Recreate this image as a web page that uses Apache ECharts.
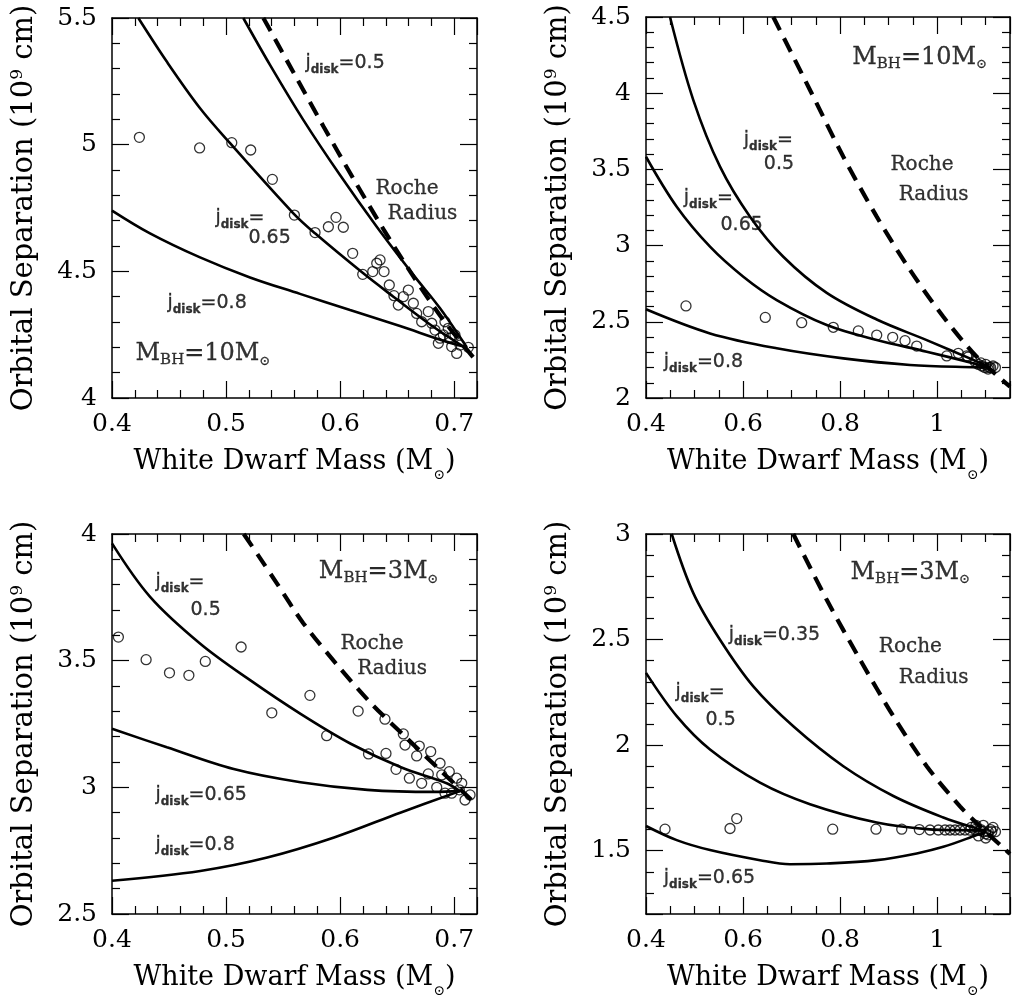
<!DOCTYPE html>
<html><head><meta charset="utf-8">
<script src="https://cdn.jsdelivr.net/npm/echarts@6/dist/echarts.min.js"></script>
<style>html,body{margin:0;padding:0;background:#fff}#c{width:1012px;height:1000px}</style>
</head><body><div id="c"></div>
<script>
// ===== Panel A: M_BH = 10 Msun, WD mass 0.4–0.72 =====
const aRoche = [[0.5327,5.5],[0.5590,5.286],[0.5853,5.073],[0.6116,4.866],[0.6379,4.667],[0.6642,4.480],[0.6905,4.308],[0.7183,4.152]];
const aJ050 = [[0.5151,5.5],[0.5385,5.315],[0.5677,5.098],[0.5999,4.880],[0.6321,4.676],[0.6642,4.486],[0.6876,4.354],[0.7110,4.200]];
const aJ065 = [[0.4231,5.5],[0.4480,5.328],[0.4772,5.144],[0.5035,5.006],[0.5590,4.729],[0.5780,4.650],[0.6203,4.492],[0.6467,4.400],[0.6817,4.281],[0.7081,4.203]];
const aJ080 = [[0.400,4.740],[0.4333,4.650],[0.4772,4.555],[0.5210,4.476],[0.5648,4.411],[0.6087,4.347],[0.6525,4.284],[0.6905,4.226],[0.7110,4.200]];
const aPoints = [[0.424,5.029],[0.4768,4.987],[0.505,5.008],[0.5216,4.979],[0.5406,4.863],[0.5599,4.722],[0.578,4.653],[0.5897,4.676],[0.5964,4.713],[0.6028,4.674],[0.611,4.571],[0.6198,4.488],[0.6286,4.499],[0.6321,4.532],[0.635,4.545],[0.6385,4.499],[0.6431,4.446],[0.6472,4.404],[0.651,4.367],[0.6554,4.4],[0.6598,4.426],[0.6642,4.374],[0.6671,4.334],[0.6715,4.301],[0.6773,4.341],[0.6803,4.295],[0.6832,4.268],[0.6876,4.236],[0.6919,4.301],[0.6948,4.275],[0.6978,4.203],[0.7022,4.176],[0.7051,4.209],[0.7124,4.2],[0.6861,4.216],[0.6905,4.249],[0.6963,4.236],[0.7007,4.249]];
const aLabels = [['jd','0.5',0.5692,5.3225],['r','Roche',0.6306,4.825],['r','Radius',0.6411,4.726],['jd','',0.4903,4.711],['n','0.65',0.5192,4.632],['jd','0.8',0.4482,4.375],['mbh','10',0.4202,4.174]];

// ===== Panel B: M_BH = 10 Msun, WD mass 0.4–1.15 =====
const bRoche = [[0.6623,4.5],[0.7379,4.021],[0.8066,3.583],[0.8754,3.190],[0.9440,2.840],[1.0126,2.533],[1.0814,2.271],[1.15,2.074]];
const bJ050 = [[0.4495,4.5],[0.4975,3.955],[0.5525,3.518],[0.6143,3.190],[0.6829,2.927],[0.7724,2.690],[0.8754,2.515],[0.9784,2.380],[1.0744,2.250],[1.100,2.215]];
const bJ065 = [[0.4,3.583],[0.4633,3.255],[0.5319,2.993],[0.6005,2.796],[0.6693,2.643],[0.7724,2.479],[0.8754,2.381],[0.9784,2.304],[1.0744,2.228],[1.100,2.205]];
const bJ080 = [[0.4,2.582],[0.5319,2.424],[0.6693,2.326],[0.8066,2.260],[0.9440,2.217],[1.0814,2.201],[1.100,2.200]];
const bPoints = [[0.4824,2.604],[0.6458,2.529],[0.7208,2.494],[0.7859,2.464],[0.8375,2.440],[0.8754,2.413],[0.9083,2.398],[0.9337,2.376],[0.9578,2.341],[1.0196,2.276],[1.0435,2.293],[1.0608,2.276],[1.0635,2.269],[1.078,2.24],[1.085,2.22],[1.092,2.21],[1.098,2.20],[1.105,2.19],[1.11,2.20],[1.115,2.21],[1.12,2.20],[1.09,2.23],[1.10,2.22],[1.107,2.2]];
const bLabels = [['mbh','10',0.8239,4.234],['jd','',0.6005,3.693],['n','0.5',0.6417,3.535],['jd','',0.4769,3.312],['n','0.65',0.5525,3.135],['r','Roche',0.9028,3.529],['r','Radius',0.9199,3.332],['jd','0.8',0.4357,2.236]];

// ===== Panel C: M_BH = 3 Msun, WD mass 0.4–0.72 =====
const cRoche = [[0.5155,4.0],[0.5298,3.905],[0.5444,3.806],[0.5677,3.648],[0.5999,3.470],[0.6277,3.329],[0.6554,3.207],[0.686,3.075],[0.7168,2.943]];
const cJ050 = [[0.400,3.963],[0.4334,3.752],[0.4774,3.567],[0.5214,3.422],[0.5653,3.290],[0.6093,3.172],[0.6533,3.079],[0.6934,3.016],[0.7050,2.985]];
const cJ065 = [[0.400,3.231],[0.4481,3.158],[0.5067,3.072],[0.5653,3.020],[0.6240,2.990],[0.6826,2.982],[0.7050,2.985]];
const cJ080 = [[0.400,2.631],[0.4774,2.670],[0.5361,2.723],[0.5947,2.802],[0.6533,2.901],[0.7050,2.985]];
const cPoints = [[0.4056,3.593],[0.4299,3.504],[0.4504,3.452],[0.4674,3.442],[0.4818,3.497],[0.5132,3.554],[0.5401,3.294],[0.5735,3.363],[0.5882,3.204],[0.6158,3.301],[0.6249,3.132],[0.6393,3.269],[0.6402,3.134],[0.6490,3.071],[0.6554,3.211],[0.6569,3.167],[0.6607,3.036],[0.6671,3.124],[0.6694,3.163],[0.6715,3.016],[0.6773,3.053],[0.6794,3.141],[0.6847,3.000],[0.6876,3.095],[0.6891,3.049],[0.6920,2.977],[0.6957,3.062],[0.6978,2.977],[0.7022,3.036],[0.7045,2.990],[0.7066,3.016],[0.7095,2.950],[0.7139,2.970]];
const cLabels = [['mbh','3',0.5809,3.851],['jd','',0.4377,3.812],['n','0.5',0.4684,3.700],['r','Roche',0.5999,3.566],['r','Radius',0.6145,3.467],['jd','0.65',0.4377,2.970],['jd','0.8',0.4377,2.772]];

// ===== Panel D: M_BH = 3 Msun, WD mass 0.4–1.15 =====
const dRoche = [[0.7035,3.0],[0.7724,2.688],[0.8410,2.405],[0.9096,2.137],[0.9784,1.900],[1.0470,1.71],[1.0862,1.62],[1.1397,1.506],[1.15,1.485]];
const dJ035 = [[0.4530,3.0],[0.4975,2.720],[0.5525,2.499],[0.6211,2.278],[0.7035,2.089],[0.8066,1.900],[0.9096,1.759],[1.0126,1.657],[1.0814,1.605],[1.10,1.595]];
const dJ050 = [[0.4,2.342],[0.4633,2.137],[0.5319,1.979],[0.6349,1.822],[0.7379,1.720],[0.8754,1.633],[0.9784,1.602],[1.0814,1.596],[1.10,1.595]];
const dJ065 = [[0.4,1.617],[0.4633,1.550],[0.5319,1.503],[0.6349,1.455],[0.6967,1.436],[0.7724,1.439],[0.8754,1.455],[0.9578,1.487],[1.0126,1.518],[1.0814,1.574],[1.10,1.59]];
const dPoints = [[0.4392,1.602],[0.5731,1.605],[0.5869,1.652],[0.7847,1.602],[0.8739,1.602],[0.9269,1.602],[0.9632,1.600],[0.9852,1.598],[1.0023,1.598],[1.0161,1.598],[1.0264,1.598],[1.0367,1.598],[1.0470,1.598],[1.0573,1.598],[1.0676,1.597],[1.0779,1.600],[1.0882,1.595],[1.0950,1.590],[1.1053,1.590],[1.1124,1.590],[1.07,1.61],[1.08,1.62],[1.09,1.60],[1.10,1.58],[1.11,1.60],[1.12,1.59],[1.10,1.56],[1.085,1.57],[1.095,1.62],[1.115,1.61],[1.105,1.575]];
const dLabels = [['mbh','3',0.8204,2.818],['jd','0.35',0.5696,2.522],['jd','',0.4598,2.253],['n','0.5',0.5216,2.119],['r','Roche',0.8787,2.466],['r','Radius',0.9199,2.318],['jd','0.65',0.4357,1.371]];

// ===== axis ranges / ticks =====
const xRangeSmall = [0.4, 0.72], xRangeLarge = [0.4, 1.15];
const yRangeA = [4, 5.5], yRangeB = [2, 4.5], yRangeC = [2.5, 4], yRangeD = [1.2, 3];

const SERIF = 'DejaVu Serif';
const SANS = 'DejaVu Sans';

const panels = [
  {grid:{left:112, top:18, width:365, height:380}, x:xRangeSmall, xi:0.1, xm:5, y:yRangeA, yi:0.5, ym:5,
   roche:aRoche, curves:[aJ050,aJ065,aJ080], pts:aPoints, labels:aLabels},
  {grid:{left:646, top:17, width:364, height:381}, x:xRangeLarge, xi:0.2, xm:4, y:yRangeB, yi:0.5, ym:5,
   roche:bRoche, curves:[bJ050,bJ065,bJ080], pts:bPoints, labels:bLabels},
  {grid:{left:112, top:534, width:365, height:380}, x:xRangeSmall, xi:0.1, xm:5, y:yRangeC, yi:0.5, ym:5,
   roche:cRoche, curves:[cJ050,cJ065,cJ080], pts:cPoints, labels:cLabels},
  {grid:{left:646, top:534, width:364, height:380}, x:xRangeLarge, xi:0.2, xm:4, y:yRangeD, yi:null, ym:5,
   roche:dRoche, curves:[dJ035,dJ050,dJ065], pts:dPoints, labels:dLabels}
];

const xName = '{a|White Dwarf Mass (M}{s|⊙}{a|)}';
const yName = '{a|Orbital Separation (10}{p|9}{a| cm)}';

const tickStyle = {color:'#000', width:1.2};
function baseAxis(min, max, interval, minorSplit) {
  const a = {
    type:'value', min:min, max:max,
    axisLine:{show:true, onZero:false, lineStyle:{color:'#000', width:1.5}},
    axisTick:{show:true, inside:true, length:17, lineStyle:tickStyle},
    minorTick:{show:true, splitNumber:minorSplit, length:8, lineStyle:tickStyle},
    splitLine:{show:false}, minorSplitLine:{show:false}
  };
  if (interval) a.interval = interval; else a.splitNumber = 4;
  return a;
}

const xAxes = [], yAxes = [], series = [];
function labelText(kind, txt) {
  if (kind === 'jd') return '{j|j}{d|disk}{j|=' + txt + '}';
  if (kind === 'n') return '{j|' + txt + '}';
  if (kind === 'r') return '{r|' + txt + '}';
  return '{m|M}{ms|BH}{m|=' + txt + 'M}{mo|⊙}';
}
const thick = {color:'#000', textBorderColor:'#000', textBorderWidth:0.3};
const annotRich = {
  j:Object.assign({fontFamily:SANS, fontSize:19, lineHeight:26, verticalAlign:'middle'}, thick),
  d:Object.assign({fontFamily:SANS, fontWeight:'bold', fontSize:12, lineHeight:12, verticalAlign:'bottom'}, thick),
  r:Object.assign({fontFamily:SERIF, fontSize:20, lineHeight:26, verticalAlign:'middle'}, thick),
  m:Object.assign({fontFamily:SERIF, fontSize:24, lineHeight:28, verticalAlign:'middle'}, thick),
  ms:Object.assign({fontFamily:SERIF, fontSize:15, lineHeight:15, verticalAlign:'bottom'}, thick),
  mo:Object.assign({fontFamily:SERIF, fontSize:13, lineHeight:13, verticalAlign:'bottom'}, thick)
};

panels.forEach(function(p, i){
  const xb = baseAxis(p.x[0], p.x[1], p.xi, p.xm);
  Object.assign(xb, {gridIndex:i, position:'bottom',
    axisLabel:{show:true, interval:0, margin:14, fontFamily:SERIF, fontSize:25, color:'#000', showMaxLabel:false},
    name:xName, nameLocation:'middle', nameGap:44,
    nameTextStyle:{rich:{
      a:{fontFamily:SERIF, fontSize:27, lineHeight:40, verticalAlign:'middle', color:'#000'},
      s:{fontFamily:SERIF, fontSize:14, lineHeight:14, verticalAlign:'bottom', color:'#000'}
    }}});
  const xt = baseAxis(p.x[0], p.x[1], p.xi, p.xm);
  Object.assign(xt, {gridIndex:i, position:'top', axisLabel:{show:false}});
  xAxes.push(xb, xt);
  const yl = baseAxis(p.y[0], p.y[1], p.yi, p.ym);
  Object.assign(yl, {gridIndex:i, position:'left',
    axisLabel:{show:true, interval:0, margin:15, fontFamily:SERIF, fontSize:25, color:'#000', showMinLabel: p.yi ? true : false},
    name:yName, nameLocation:'middle', nameGap:72, nameRotate:90,
    nameTextStyle:{rich:{
      a:{fontFamily:SERIF, fontSize:29, lineHeight:31, verticalAlign:'middle', color:'#000'},
      p:{fontFamily:SERIF, fontSize:17, lineHeight:17, verticalAlign:'top', color:'#000'}
    }}});
  const yr = baseAxis(p.y[0], p.y[1], p.yi, p.ym);
  Object.assign(yr, {gridIndex:i, position:'right', axisLabel:{show:false}});
  yAxes.push(yl, yr);

  const xi = 2*i, yi = 2*i;
  p.curves.forEach(function(c){
    series.push({type:'line', xAxisIndex:xi, yAxisIndex:yi, data:c, showSymbol:false, smooth:0.35,
      lineStyle:{color:'#000', width:2.6}, silent:true, z:3});
  });
  series.push({type:'line', xAxisIndex:xi, yAxisIndex:yi, data:p.roche, showSymbol:false, smooth:0.3,
    lineStyle:{color:'#000', width:4.2, type:[15,9], cap:'butt'}, silent:true, z:3});
  series.push({type:'scatter', xAxisIndex:xi, yAxisIndex:yi, data:p.pts, symbol:'circle', symbolSize:10,
    itemStyle:{color:'rgba(0,0,0,0)', borderColor:'#000', borderWidth:1.3}, silent:true, z:4});
  series.push({type:'scatter', xAxisIndex:xi, yAxisIndex:yi, symbolSize:1, clip:false,
    itemStyle:{color:'rgba(0,0,0,0)'}, silent:true, z:5,
    data:p.labels.map(function(l){ return {value:[l[2], l[3]], t:labelText(l[0], l[1])}; }),
    label:{show:true, position:'right', distance:0, color:'#000', formatter:function(q){ return q.data.t; }, rich:annotRich}
  });
});

const chart = echarts.init(document.getElementById('c'), null, {renderer:'canvas'});
chart.setOption({
  backgroundColor:'#fff',
  animation:false,
  grid: panels.map(function(p){ return Object.assign({containLabel:false, outerBoundsMode:'none'}, p.grid); }),
  xAxis:xAxes, yAxis:yAxes, series:series
});
</script>
</body></html>
